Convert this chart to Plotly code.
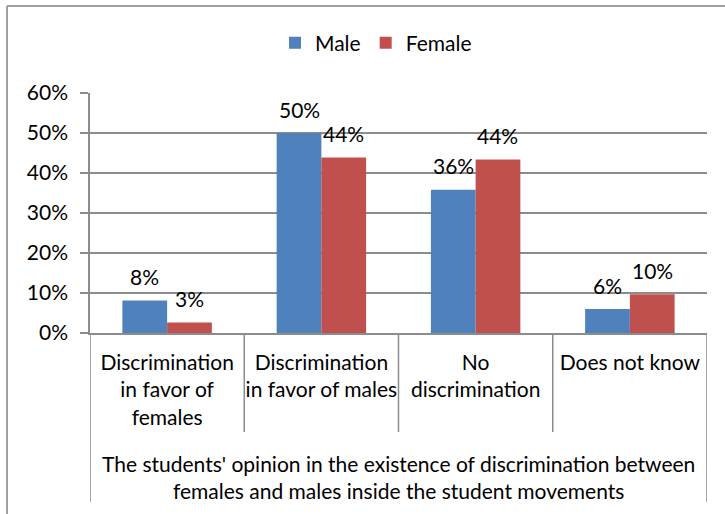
import plotly.graph_objects as go

categories = ["Discrimination<br>in favor of<br>females",
              "Discrimination<br>in favor of males",
              "No<br>discrimination",
              "Does not know"]
male = [8.1, 50.0, 35.8, 6.0]
female = [2.6, 43.9, 43.4, 9.7]
male_labels = ["8%", "50%", "36%", "6%"]
female_labels = ["3%", "44%", "44%", "10%"]
y_ticks = [0, 10, 20, 30, 40, 50, 60]
y_tick_labels = ["0%", "10%", "20%", "30%", "40%", "50%", "60%"]
axis_title = ("The students' opinion in the existence of discrimination between<br>"
              "females and males inside the student movements")

FONT = "Lato"
FS = 21
GRAY = "#8c8c8c"
BLUE = "#4F81BD"
RED = "#C0504D"
BARGAP = 0.42

W, H = 725, 514
L, R, T, B = 90, 18, 93, 181
pw, ph = W - L - R, H - T - B

fig = go.Figure()
fig.add_trace(go.Bar(x=list(range(len(categories))), y=male, name="Male",
                     marker=dict(color=BLUE, line=dict(width=0))))
fig.add_trace(go.Bar(x=list(range(len(categories))), y=female, name="Female",
                     marker=dict(color=RED, line=dict(width=0))))

bw = (1 - BARGAP) / 2
ann = []
for i in range(len(categories)):
    for j, (vals, labs) in enumerate([(male, male_labels), (female, female_labels)]):
        ann.append(dict(x=i + (j - 0.5) * bw, y=vals[i], xref="x", yref="y",
                        text=labs[i], showarrow=False, yanchor="middle",
                        yshift=24, font=dict(family=FONT, size=FS, color="#000")))

def py(ypix):
    return 1 - (ypix - T) / ph

ann.append(dict(x=0.5, y=py(477), xref="paper", yref="paper",
                text=axis_title, showarrow=False, yanchor="middle",
                font=dict(family=FONT, size=FS, color="#000")))

shapes = []
n = len(categories)
for k in range(n + 1):
    xb = k - 0.5
    bottom = py(502) if k in (0, n) else py(432)
    shapes.append(dict(type="line", xref="x", yref="paper", x0=xb, x1=xb,
                       y0=0, y1=bottom, line=dict(color=GRAY, width=1.5)))
# outer frame (top and left)
fx = (7 - L) / pw
shapes.append(dict(type="line", xref="paper", yref="paper", x0=fx, x1=(W - L) / pw + 0.01,
                   y0=py(6), y1=py(6), line=dict(color="#a0a0a0", width=2)))
shapes.append(dict(type="line", xref="paper", yref="paper", x0=fx, x1=fx,
                   y0=py(6), y1=py(H + 5), line=dict(color="#a0a0a0", width=2)))

fig.update_layout(
    width=W, height=H,
    margin=dict(l=L, r=R, t=T, b=B),
    paper_bgcolor="white", plot_bgcolor="white",
    barmode="group", bargap=BARGAP, bargroupgap=0,
    font=dict(family=FONT, size=FS, color="#000"),
    showlegend=True,
    legend=dict(orientation="h", xref="container", yref="container",
                x=376 / W, y=1 - 43 / H, xanchor="center", yanchor="middle",
                font=dict(family=FONT, size=FS), itemwidth=30,
                traceorder="normal"),
    xaxis=dict(type="linear", tickmode="array", tickvals=list(range(n)),
               ticktext=categories, range=[-0.5, n - 0.5],
               showgrid=False, zeroline=False, showline=True,
               linecolor=GRAY, linewidth=1.5, ticks="",
               ticklabelstandoff=10,
               tickfont=dict(family=FONT, size=FS, color="#000")),
    yaxis=dict(range=[0, 60], tickmode="array", tickvals=y_ticks,
               ticktext=y_tick_labels, showgrid=True, gridcolor=GRAY, gridwidth=1.5,
               zeroline=False, showline=True, linecolor=GRAY, linewidth=1.5,
               ticks="outside", ticklen=8, tickcolor=GRAY, tickwidth=1.5,
               ticklabelstandoff=8,
               tickfont=dict(family=FONT, size=FS, color="#000")),
    annotations=ann, shapes=shapes,
)
fig.write_html("out.html")
